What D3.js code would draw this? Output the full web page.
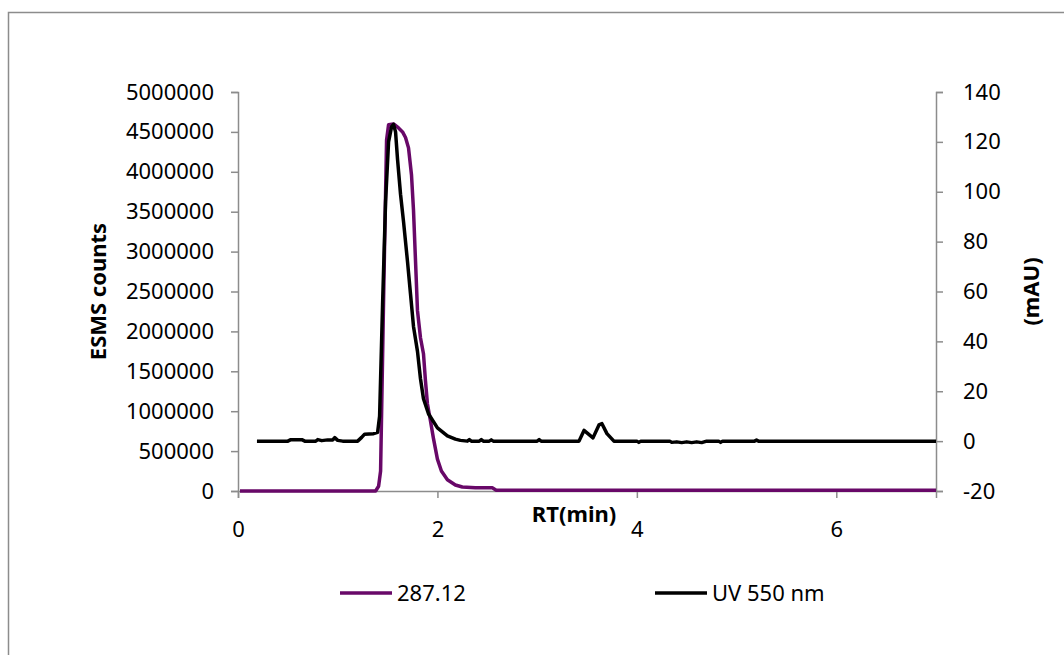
<!DOCTYPE html>
<html>
<head>
<meta charset="utf-8">
<script src="https://cdn.jsdelivr.net/npm/d3@7"></script>
<style>
  body { margin: 0; background: #fff; }
  text { font-family: "Noto Sans", "Open Sans", sans-serif; fill: #000; }
</style>
</head>
<body>
<div id="chart"></div>
<script>
// ESMS trace (m/z 287.12)
var msTime   = [0.02, 1.38, 1.41, 1.43, 1.46, 1.49, 1.51, 1.56, 1.61, 1.65, 1.68, 1.71, 1.74, 1.76, 1.78, 1.80, 1.83, 1.86, 1.88, 1.90, 1.93, 1.96, 2.00, 2.04, 2.10, 2.18, 2.25, 2.38, 2.55, 2.59, 7.00];
var msCounts = [0, 0, 60000, 250000, 2400000, 4400000, 4590000, 4600000, 4550000, 4500000, 4430000, 4300000, 3960000, 3520000, 2890000, 2260000, 1920000, 1720000, 1380000, 1090000, 880000, 660000, 400000, 250000, 140000, 75000, 50000, 40000, 40000, 10000, 10000];

// UV 550 nm trace
var uvTime = [0.19, 0.50, 0.53, 0.64, 0.67, 0.78, 0.80, 0.84, 0.90, 0.95, 0.97, 1.00, 1.05, 1.20, 1.24, 1.27, 1.36, 1.40, 1.42, 1.45, 1.48, 1.51, 1.54, 1.56, 1.58, 1.60, 1.63, 1.66, 1.70, 1.73, 1.76, 1.80, 1.83, 1.86, 1.91, 2.00, 2.10, 2.18, 2.23, 2.30, 2.32, 2.34, 2.42, 2.44, 2.46, 2.52, 2.54, 2.56, 3.00, 3.02, 3.04, 3.42, 3.47, 3.56, 3.62, 3.65, 3.70, 3.77, 4.00, 4.02, 4.04, 4.33, 4.35, 4.40, 4.45, 4.50, 4.55, 4.60, 4.65, 4.70, 4.82, 4.84, 4.86, 5.18, 5.20, 5.22, 7.00];
var uvMau  = [0, 0, 0.6, 0.6, 0, 0, 0.6, 0.2, 0.5, 0.5, 1.4, 0.3, 0, 0, 1.5, 2.8, 3, 3.5, 10, 55, 96, 120, 126, 127, 124, 113, 99, 88, 72, 59, 46, 36, 25, 17, 11, 5.3, 2.1, 0.8, 0.3, 0, 0.6, 0, 0, 0.6, 0, 0, 0.5, 0, 0, 0.6, 0, 0, 4.3, 1.3, 6.5, 7, 3, 0, 0, -0.5, 0, 0, -0.5, -0.3, -0.6, -0.3, -0.6, -0.3, -0.6, 0, 0, -0.5, 0, 0, 0.4, 0, 0];

var xTicks = [0, 2, 4, 6];
var leftTicks = [0, 500000, 1000000, 1500000, 2000000, 2500000, 3000000, 3500000, 4000000, 4500000, 5000000];
var rightTicks = [-20, 0, 20, 40, 60, 80, 100, 120, 140];
var seriesNames = ["287.12", "UV 550 nm"];
var seriesColors = ["#680868", "#000000"];

var W = 1064, H = 655;
var margin = {top: 92, right: 128, bottom: 164, left: 238},
    width = W - margin.left - margin.right,
    height = H - margin.top - margin.bottom;

var svg = d3.select("#chart")
  .append("svg")
    .attr("width", W)
    .attr("height", H);

svg.append("rect")
  .attr("x", 8.5).attr("y", 12.5)
  .attr("width", 1100).attr("height", 700)
  .attr("fill", "#fff")
  .attr("stroke", "#8c8c8c")
  .attr("stroke-width", 1.5);

var g = svg.append("g")
  .attr("transform", "translate(" + margin.left + "," + margin.top + ")");

var x = d3.scaleLinear().domain([0, 7]).range([0, width]);
var yL = d3.scaleLinear().domain([0, 5000000]).range([height, 0]);
var yR = d3.scaleLinear().domain([-20, 140]).range([height, 0]);

function styleAxis(sel) {
  sel.select(".domain").attr("stroke", "#8c8c8c").attr("stroke-width", 1.5);
  sel.selectAll(".tick line").attr("stroke", "#8c8c8c").attr("stroke-width", 1.5);
  sel.selectAll(".tick text").style("font-size", "22px").attr("fill", "#000");
}

g.append("g")
  .attr("transform", "translate(0," + height + ")")
  .call(d3.axisBottom(x).tickValues(xTicks).tickSizeOuter(0).tickSize(7).tickPadding(23).tickFormat(String))
  .call(styleAxis);

g.append("g")
  .call(d3.axisLeft(yL).tickValues(leftTicks).tickSizeOuter(0).tickSize(7).tickPadding(17).tickFormat(String))
  .call(styleAxis);

g.append("g")
  .attr("transform", "translate(" + width + ",0)")
  .call(d3.axisRight(yR).tickValues(rightTicks).tickSizeOuter(0).tickSize(7).tickPadding(20).tickFormat(String))
  .call(styleAxis);

// axis titles
g.append("text")
  .attr("transform", "translate(-140," + (height / 2) + ") rotate(-90)")
  .attr("dy", "0.35em")
  .style("text-anchor", "middle")
  .style("font-size", "22px")
  .style("font-weight", "bold")
  .text("ESMS  counts");

g.append("text")
  .attr("transform", "translate(" + (width + 95) + "," + (height / 2) + ") rotate(-90)")
  .attr("dy", "0.35em")
  .style("text-anchor", "middle")
  .style("font-size", "22px")
  .style("font-weight", "bold")
  .text("(mAU)");

g.append("text")
  .attr("x", x(3.37))
  .attr("y", height + 31)
  .style("text-anchor", "middle")
  .style("font-size", "22px")
  .style("font-weight", "bold")
  .text("RT(min)");

// traces
var msData = msTime.map(function(t, i) { return {t: t, v: msCounts[i]}; });
var uvData = uvTime.map(function(t, i) { return {t: t, v: uvMau[i]}; });

g.append("path")
  .datum(msData)
  .attr("fill", "none")
  .attr("stroke", seriesColors[0])
  .attr("stroke-width", 3.5)
  .attr("stroke-linejoin", "round")
  .attr("d", d3.line()
    .x(function(d) { return x(d.t); })
    .y(function(d) { return yL(d.v); }));

g.append("path")
  .datum(uvData)
  .attr("fill", "none")
  .attr("stroke", seriesColors[1])
  .attr("stroke-width", 3.5)
  .attr("stroke-linejoin", "round")
  .attr("d", d3.line()
    .x(function(d) { return x(d.t); })
    .y(function(d) { return yR(d.v); }));

// legend
var legendX = [340, 655];
var leg = svg.selectAll(".leg")
  .data(seriesNames)
  .enter().append("g")
  .attr("class", "leg")
  .attr("transform", function(d, i) { return "translate(" + legendX[i] + ",593)"; });

leg.append("line")
  .attr("x1", 0).attr("x2", 52)
  .attr("stroke", function(d, i) { return seriesColors[i]; })
  .attr("stroke-width", 3.5);

leg.append("text")
  .attr("x", 57)
  .attr("dy", "0.35em")
  .style("font-size", "22px")
  .text(function(d) { return d; });
</script>
</body>
</html>
